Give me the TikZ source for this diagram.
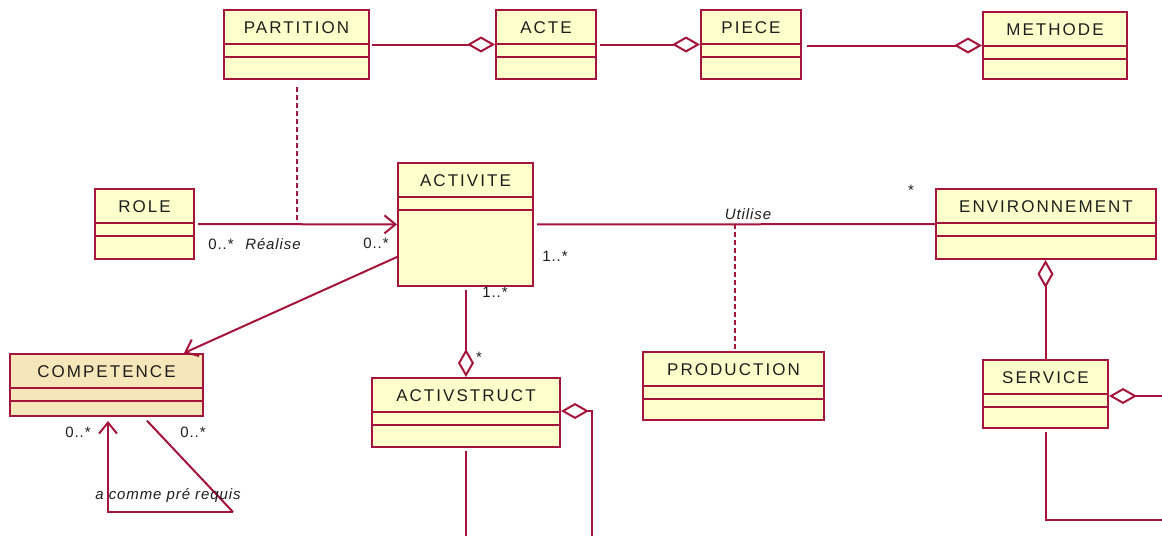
\documentclass[tikz,border=0pt]{standalone}
\usepackage{fontspec}
\setmainfont{Liberation Sans}
\newfontfamily\classfont[LetterSpace=12]{Liberation Sans}
\newfontfamily\labelfont[LetterSpace=6]{Liberation Sans}
\usetikzlibrary{arrows.meta,calc}

\definecolor{umlline}{RGB}{165,20,60}
\definecolor{umlfill}{RGB}{255,255,204}
\definecolor{umlfilltwo}{RGB}{245,231,185}
\definecolor{umltext}{RGB}{30,30,30}

\tikzset{
  umlstroke/.style={draw=umlline, line width=2pt},
  classbox/.style={umlstroke, fill=umlfill, rectangle, inner sep=0pt, anchor=north west},
  classname/.style={font=\classfont\fontsize{17}{20}\selectfont, text=umltext},
  mult/.style={font=\labelfont\fontsize{15}{18}\selectfont, text=umltext, inner sep=0pt},
  aggr/.style={umlstroke, -{Diamond[length=28pt, width=16pt, fill=white]}},
  navig/.style={umlstroke, -{Straight Barb[length=11pt, width=18pt]}},
  dotline/.style={umlstroke, dash pattern=on 5pt off 3pt}
}

% class box: [fill]{name}{top left}{width}{height}{title}
\newcommand{\umlclass}[6][umlfill]{%
  \node[classbox, fill=#1, minimum width=#4, minimum height=#5] (#2) at (#3) {};
  \node[classname] at ($(#2.north)+(0,19)$) {#6};
  \draw[umlstroke] ($(#2.north west)+(0,35)$) -- ($(#2.north east)+(0,35)$);
  \draw[umlstroke] ($(#2.north west)+(0,48)$) -- ($(#2.north east)+(0,48)$);
}

\begin{document}
\begin{tikzpicture}[x=1pt, y=-1pt]
  \fill[white] (0,0) rectangle (1162,536);
  \useasboundingbox (0,0) rectangle (1162,536);

  % classes
  \umlclass{partition}{223,9}{145}{69}{PARTITION}
  \umlclass{acte}{495,9}{100}{69}{ACTE}
  \umlclass{piece}{700,9}{100}{69}{PIECE}
  \umlclass{methode}{982,11}{144}{67}{METHODE}
  \umlclass{role}{94,188}{99}{70}{ROLE}
  \umlclass{activite}{397,162}{135}{123}{ACTIVITE}
  \umlclass{environnement}{935,188}{220}{70}{ENVIRONNEMENT}
  \umlclass[umlfilltwo]{competence}{9,353}{193}{62}{COMPETENCE}
  \umlclass{activstruct}{371,377}{188}{69}{ACTIVSTRUCT}
  \umlclass{production}{642,351}{181}{68}{PRODUCTION}
  \umlclass{service}{982,359}{125}{68}{SERVICE}

  % top row
  \draw[aggr, shorten <=2pt] (partition) -- (acte);
  \draw[aggr, shorten <=3pt] (acte) -- (piece);
  \draw[aggr] ($(piece.east |- methode.west)+(5,0)$) -- (methode.west);

  % realise
  \draw[navig, shorten <=3pt] (role) -- (activite);
  \coordinate (realise) at (partition.south |- role.east);
  \draw[dotline, shorten <=7pt] (partition.south) -- (realise);
  \node[mult] at (221,244) {0..*};
  \node[mult] at (273,244) {\itshape Réalise};
  \node[mult] at (376,243) {0..*};

  % utilise
  \draw[umlstroke, shorten <=3pt] (activite) -- (environnement);
  \coordinate (utilise) at ($(activite.east)!0.5!(environnement.west)$);
  \draw[dotline] (utilise) -- (utilise |- production.north);
  \node[mult] at (748,214) {\itshape Utilise};
  \node[mult] at (555,256) {1..*};
  \node[mult] at (911,190) {*};

  % competence
  \draw[navig] ($(activite.south west)+(0,-30)$) -- ($(competence.north east)+(-20,0)$);
  \coordinate (req1) at (108,512);
  \coordinate (req2) at (233,512);
  \draw[navig, shorten >=4pt] (req2) -- (req1) -- (req1 |- competence.south);
  \draw[umlstroke, shorten >=5pt] (req2) -- ($(competence.south)+(37,0)$);
  \node[mult] at (78,432) {0..*};
  \node[mult] at (193,432) {0..*};
  \node[mult] at (168,496) {\itshape a comme pré requis};

  % activstruct
  \draw[aggr] ($(activstruct.north |- activite.south)+(0,3)$) -- (activstruct.north);
  \node[mult] at (495,292) {1..*};
  \node[mult] at (479,357) {*};
  \coordinate (asr) at (592,536);
  \draw[aggr] (asr) |- ($(activstruct.north east)+(0,34)$);
  \draw[umlstroke] ($(activstruct.south)+(0,3)$) -- (activstruct.south |- asr);

  % service
  \draw[aggr] (service.north) -- (service.north |- environnement.south);
  \coordinate (svr) at (1162,396);
  \draw[aggr] (svr) -- (service.east |- svr);
  \coordinate (svb) at (1162,520);
  \draw[umlstroke] ($(service.south)+(0,3)$) |- (svb);
\end{tikzpicture}
\end{document}
